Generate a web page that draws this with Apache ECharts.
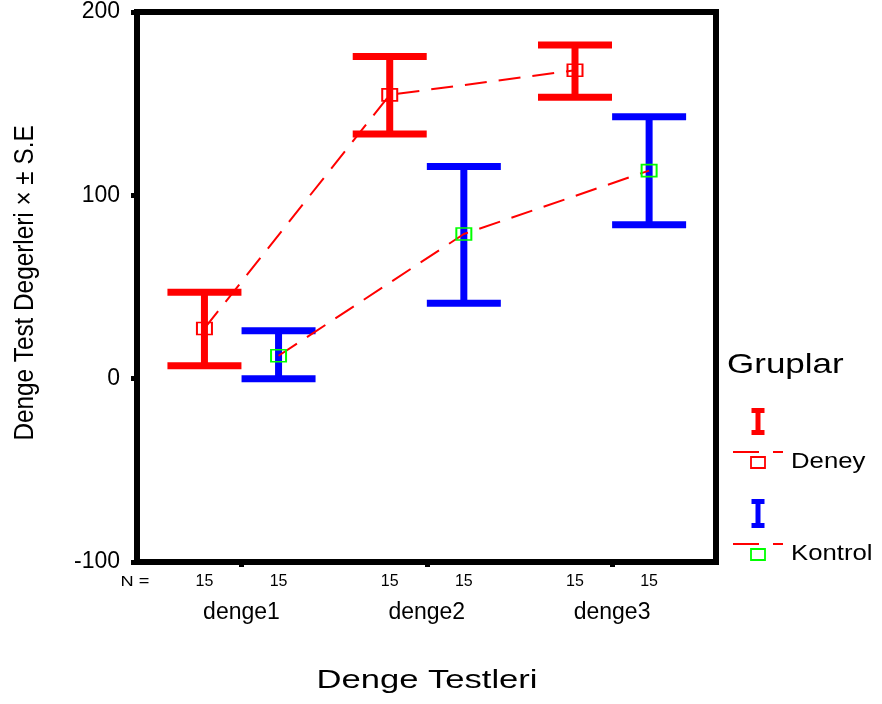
<!DOCTYPE html>
<html>
<head>
<meta charset="utf-8">
<script src="https://cdn.jsdelivr.net/npm/echarts@6/dist/echarts.min.js"></script>
<style>
  html, body { margin: 0; padding: 0; background: #fff; }
  #chart { width: 882px; height: 704px; }
</style>
</head>
<body>
<div id="chart"></div>
<script>
const categories = ["denge1", "denge2", "denge3"];
const groups = ["Deney", "Kontrol"];
const deneyMean = [27.4, 154.8, 168.2];
const deneyLow = [7.1, 133.5, 153.5];
const deneyHigh = [47.1, 175.7, 182.0];
const kontrolMean = [12.5, 78.9, 113.5];
const kontrolLow = [0, 41.1, 84.0];
const kontrolHigh = [26.2, 115.7, 142.9];
const deneyN = [15, 15, 15];
const kontrolN = [15, 15, 15];
const yTicks = [-100, 0, 100, 200];

const FONT = "'Liberation Sans', Arial, sans-serif";
const RED = "#ff0000";
const BLUE = "#0000ff";
const GREEN = "#00ff00";
const OFFSET = 0.2;

// positions of the two groups inside each category
const deneyX = categories.map((_, i) => i - OFFSET);
const kontrolX = categories.map((_, i) => i + OFFSET);

const nLabels = new Map();
categories.forEach((_, i) => {
  nLabels.set(deneyX[i].toFixed(2), String(deneyN[i]));
  nLabels.set(kontrolX[i].toFixed(2), String(kontrolN[i]));
});
const nPositions = [...deneyX, ...kontrolX].sort((a, b) => a - b);

function errorBar(color) {
  return (params, api) => {
    const x = api.value(0);
    const lo = api.coord([x, api.value(1)]);
    const hi = api.coord([x, api.value(2)]);
    const half = 37;
    const style = { stroke: color, lineWidth: 7 };
    return {
      type: "group",
      children: [
        { type: "line", shape: { x1: lo[0], y1: lo[1], x2: hi[0], y2: hi[1] }, style },
        { type: "line", shape: { x1: hi[0] - half, y1: hi[1], x2: hi[0] + half, y2: hi[1] }, style },
        { type: "line", shape: { x1: lo[0] - half, y1: lo[1], x2: lo[0] + half, y2: lo[1] }, style }
      ]
    };
  };
}

function legendBeam(cx, top, h, color) {
  return {
    type: "group",
    children: [
      { type: "rect", shape: { x: cx - 6.5, y: top, width: 13, height: 5 }, style: { fill: color } },
      { type: "rect", shape: { x: cx - 2.5, y: top, width: 5, height: h }, style: { fill: color } },
      { type: "rect", shape: { x: cx - 6.5, y: top + h - 5, width: 13, height: 5 }, style: { fill: color } }
    ]
  };
}

function legendLine(y, boxColor, label) {
  return [
    { type: "line", shape: { x1: 733, y1: y, x2: 759, y2: y }, style: { stroke: RED, lineWidth: 2 } },
    { type: "line", shape: { x1: 773, y1: y, x2: 783, y2: y }, style: { stroke: RED, lineWidth: 2 } },
    { type: "rect", shape: { x: 751, y: y + 5, width: 14, height: 11 }, style: { fill: "none", stroke: boxColor, lineWidth: 1.8 } },
    { type: "text", x: 791, y: y + 10, scaleX: 1.17, style: { text: label, font: "22px " + FONT, fill: "#000", align: "left", verticalAlign: "middle" } }
  ];
}

const xMin = -0.564;
const xMax = 2.561;

const option = {
  animation: false,
  backgroundColor: "#fff",
  grid: { left: 137, right: 166, top: 12, bottom: 142, show: true, borderColor: "#000", borderWidth: 6 },
  xAxis: [
    {
      type: "value",
      min: xMin,
      max: xMax,
      splitLine: { show: false },
      axisLine: { show: false, onZero: false },
      axisTick: { show: true, customValues: [0, 1, 2], length: 5, lineStyle: { color: "#000", width: 5 } },
      axisLabel: {
        customValues: [0, 1, 2],
        formatter: (v) => categories[Math.round(v)],
        margin: 39,
        fontSize: 23,
        fontFamily: FONT,
        color: "#000"
      }
    },
    {
      type: "value",
      min: xMin,
      max: xMax,
      position: "bottom",
      splitLine: { show: false },
      axisLine: { show: false, onZero: false },
      axisTick: { show: false },
      axisLabel: {
        customValues: nPositions,
        formatter: (v) => nLabels.get(v.toFixed(2)) || "",
        margin: 12,
        fontSize: 16,
        fontFamily: FONT,
        color: "#000"
      }
    }
  ],
  yAxis: {
    type: "value",
    min: yTicks[0],
    max: yTicks[yTicks.length - 1],
    interval: 100,
    splitLine: { show: false },
    axisLine: { show: false, onZero: false },
    axisTick: { show: true, length: 6, lineStyle: { color: "#000", width: 5 } },
    axisLabel: { margin: 17, fontSize: 23, fontFamily: FONT, color: "#000" }
  },
  series: [
    {
      type: "custom",
      name: groups[0] + " SE",
      z: 2,
      renderItem: errorBar(RED),
      encode: { x: 0, y: [1, 2] },
      data: categories.map((_, i) => [deneyX[i], deneyLow[i], deneyHigh[i]])
    },
    {
      type: "custom",
      name: groups[1] + " SE",
      z: 2,
      renderItem: errorBar(BLUE),
      encode: { x: 0, y: [1, 2] },
      data: categories.map((_, i) => [kontrolX[i], kontrolLow[i], kontrolHigh[i]])
    },
    {
      type: "line",
      name: groups[0],
      z: 3,
      symbol: "rect",
      symbolSize: [15, 12],
      showAllSymbol: true,
      lineStyle: { color: RED, width: 2, type: [22, 12] },
      itemStyle: { color: "rgba(0,0,0,0)", borderColor: RED, borderWidth: 1.8 },
      data: categories.map((_, i) => [deneyX[i], deneyMean[i]])
    },
    {
      type: "line",
      name: groups[1],
      z: 3,
      symbol: "rect",
      symbolSize: [15, 12],
      showAllSymbol: true,
      lineStyle: { color: RED, width: 2, type: [22, 12] },
      itemStyle: { color: "rgba(0,0,0,0)", borderColor: GREEN, borderWidth: 1.8 },
      data: categories.map((_, i) => [kontrolX[i], kontrolMean[i]])
    }
  ],
  graphic: [
    {
      type: "text", x: 26, y: 283, rotation: Math.PI / 2, scaleX: 0.9,
      style: { text: "Denge Test Degerleri \u00d7 \u00b1 S.E", font: "27px " + FONT, fill: "#000", align: "center", verticalAlign: "middle" }
    },
    {
      type: "text", x: 427, y: 681, scaleX: 1.33,
      style: { text: "Denge Testleri", font: "26px " + FONT, fill: "#000", align: "center", verticalAlign: "middle" }
    },
    {
      type: "text", x: 135, y: 582, scaleX: 1.3,
      style: { text: "N =", font: "14px " + FONT, fill: "#000", align: "center", verticalAlign: "middle" }
    },
    {
      type: "text", x: 727, y: 365, scaleX: 1.25,
      style: { text: "Gruplar", font: "28px " + FONT, fill: "#000", align: "left", verticalAlign: "middle" }
    },
    legendBeam(758, 408, 27, RED),
    ...legendLine(452, RED, groups[0]),
    legendBeam(758, 499, 29, BLUE),
    ...legendLine(544, GREEN, groups[1])
  ]
};

const chart = echarts.init(document.getElementById("chart"), null, { renderer: "canvas" });
chart.setOption(option);
</script>
</body>
</html>
